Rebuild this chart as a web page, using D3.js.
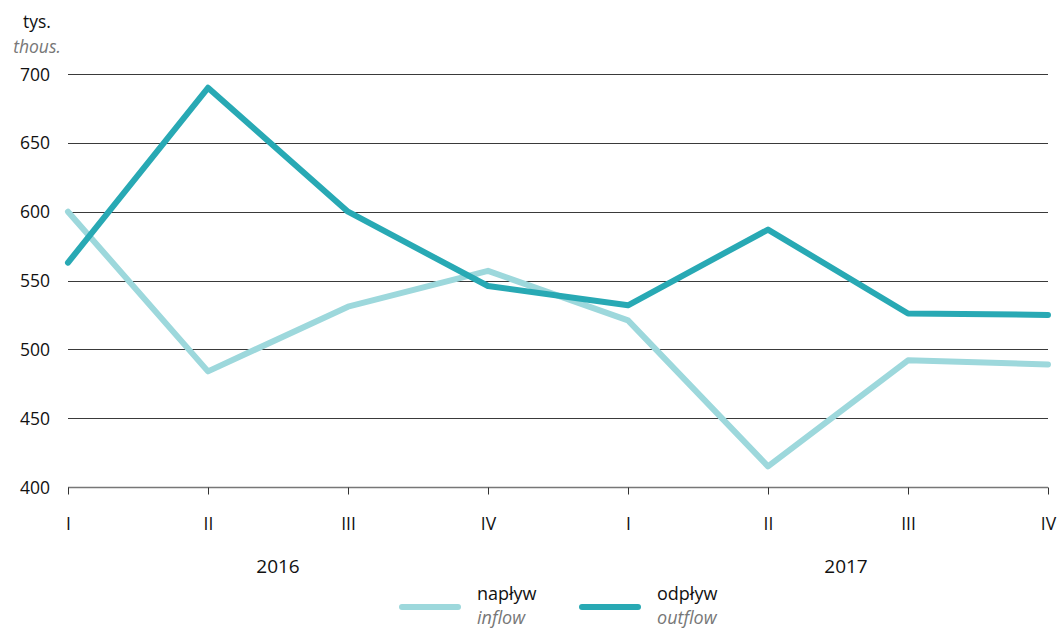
<!DOCTYPE html>
<html>
<head>
<meta charset="utf-8">
<script src="https://cdn.jsdelivr.net/npm/d3@7"></script>
<style>
  body { margin: 0; background: #fff; }
  svg { display: block; font-family: "Open Sans", "Noto Sans", sans-serif; }
</style>
</head>
<body>
<svg id="chart" width="1059" height="628"></svg>
<script>
// Quarters over two years
const quarters = ["I", "II", "III", "IV", "I", "II", "III", "IV"];
const years = ["2016", "2017"];
const yTicks = [400, 450, 500, 550, 600, 650, 700];

// thousands of people per quarter
const inflow  = [600, 484, 531, 557, 521, 415, 492, 489];
const outflow = [563, 690, 600, 546, 532, 587, 526, 525];

const seriesNames = [
  { pl: "napływ", en: "inflow", color: "#9dd8dc", values: inflow },
  { pl: "odpływ", en: "outflow", color: "#28a9b4", values: outflow }
];

const svg = d3.select("#chart");
const plotLeft = 68, plotRight = 1048, plotTop = 74, plotBottom = 487;
const fs = 17.5;

const x = d3.scalePoint().domain(d3.range(quarters.length)).range([plotLeft, plotRight]);
const y = d3.scaleLinear().domain([400, 700]).range([plotBottom, plotTop]);

// horizontal grid lines
svg.append("g")
  .selectAll("line")
  .data(yTicks.filter(v => v > 400))
  .join("line")
  .attr("x1", plotLeft).attr("x2", plotRight)
  .attr("y1", d => Math.round(y(d)) + 0.5).attr("y2", d => Math.round(y(d)) + 0.5)
  .attr("stroke", "#3a3a3a").attr("stroke-width", 1);

// y tick labels
svg.append("g")
  .selectAll("text")
  .data(yTicks)
  .join("text")
  .attr("x", 50).attr("y", d => y(d) + 6.5)
  .attr("text-anchor", "end")
  .attr("font-size", fs).attr("fill", "#111")
  .text(d => d);

// unit label
svg.append("text").attr("x", 37).attr("y", 28).attr("text-anchor", "middle")
  .attr("font-size", fs).attr("fill", "#111").text("tys.");
svg.append("text").attr("x", 37).attr("y", 53).attr("text-anchor", "middle")
  .attr("font-size", fs).attr("font-style", "italic").attr("fill", "#777").text("thous.");

// x axis
const xAxis = d3.axisBottom(x).tickSize(7).tickPadding(0).tickFormat(i => quarters[i]);
const gx = svg.append("g").attr("transform", `translate(0,${Math.round(plotBottom) + 0.5})`).call(xAxis);
gx.select(".domain").attr("stroke", "#777").attr("stroke-width", 1.3).attr("d", `M${plotLeft},0H${plotRight}`);
gx.selectAll(".tick line").attr("stroke", "#333");
gx.selectAll(".tick text").attr("y", 42).attr("dy", null)
  .attr("font-size", fs).attr("fill", "#111")
  .attr("font-family", "\"Open Sans\", \"Noto Sans\", sans-serif");

// year labels, centred under each year's quarters
svg.append("g")
  .selectAll("text")
  .data(years)
  .join("text")
  .attr("x", (d, i) => (x(i * 4 + 1) + x(i * 4 + 2)) / 2 + (i === 1 ? 8 : 0))
  .attr("y", 573)
  .attr("text-anchor", "middle")
  .attr("font-size", 19).attr("fill", "#111")
  .text(d => d);

// lines
const line = d3.line().x((d, i) => x(i)).y(d => y(d));
svg.append("g")
  .selectAll("path")
  .data(seriesNames)
  .join("path")
  .attr("d", d => line(d.values))
  .attr("fill", "none")
  .attr("stroke", d => d.color)
  .attr("stroke-width", 6)
  .attr("stroke-linejoin", "round")
  .attr("stroke-linecap", "round");

// legend
const lg = svg.append("g")
  .selectAll("g")
  .data(seriesNames)
  .join("g")
  .attr("transform", (d, i) => `translate(${402 + i * 180},0)`);
lg.append("line").attr("x1", 0).attr("x2", 56).attr("y1", 607).attr("y2", 607)
  .attr("stroke", d => d.color).attr("stroke-width", 6).attr("stroke-linecap", "round");
lg.append("text").attr("x", 75).attr("y", 600).attr("font-size", 18).attr("fill", "#111").text(d => d.pl);
lg.append("text").attr("x", 75).attr("y", 624).attr("font-size", 18).attr("font-style", "italic")
  .attr("fill", "#777").text(d => d.en);
</script>
</body>
</html>
